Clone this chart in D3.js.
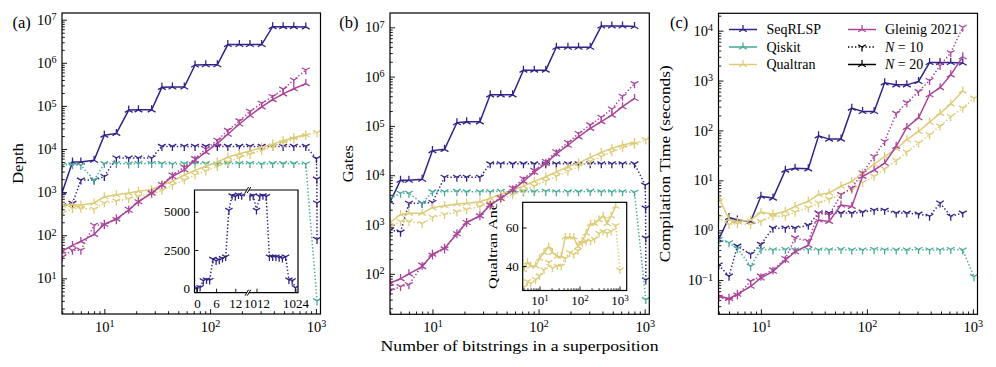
<!DOCTYPE html>
<html><head><meta charset="utf-8">
<script src="https://cdn.jsdelivr.net/npm/d3@7"></script>
<style>
body{margin:0;background:#fff;}
svg{display:block;font-family:"Liberation Serif","Times New Roman",serif;}
</style></head><body>
<svg id="chart" width="996" height="367"></svg>
<script>
// ---------------- DATA ----------------
const mN20 = [4,5,6,8,10,13,17,21,28,35,44,57,72,91,117,147,189,238,307,390,490,618,802];
const mN10 = [4,5,6,8,10,13,17,21,28,35,44,57,72,91,117,147,189,238,307,390,490,618,802,1024];
const mSeqN10 = [4,5,6,8,10,13,17,21,28,35,44,57,72,91,117,147,189,238,307,390,490,618,802,1012,1020,1023,1024];

// (a) Depth
const depthSeqN20 = [1000,5000,5000,5500,21000,23000,80000,81000,81000,270000,275000,275000,890000,900000,900000,2650000,2650000,2650000,2650000,6900000,6900000,6900000,6800000];
const depthSeqN10 = [480,550,1900,1900,2300,6200,6200,6200,6200,11500,11500,11500,11500,11500,11500,11500,11500,11500,11500,11500,11500,11500,11500,6000,2000,560,80];
const depthQiskitN10 = [4200,4300,4200,1900,4600,4600,4500,4600,4600,4600,4500,4600,4600,4600,4500,4600,4600,4600,4500,4600,4600,4600,4500,3];
const depthQualN20 = [500,520,500,560,780,870,950,1050,1150,1450,1800,2500,3200,4000,5000,6500,7800,9000,11000,13000,15500,18500,21500];
const depthQualN10 = [320,420,420,400,560,620,700,800,900,1100,1450,1900,2500,3100,3900,5000,6300,7500,9300,11500,14000,17000,20500,24000];
const depthGleinN20 = [43,58,72,105,180,240,380,600,950,1450,2300,3300,5500,8500,13500,22000,38000,60000,95000,140000,190000,250000,330000];
const depthGleinN10 = [31,45,45,170,175,230,400,600,950,1500,2500,3800,6000,10000,16000,27000,45000,75000,115000,165000,245000,400000,680000];

// (b) Gates
const gatesSeqN20 = [2900,7900,7900,8300,31600,33500,116000,121000,121000,427000,427000,427000,1350000,1350000,1350000,3930000,3930000,3930000,3930000,10600000,10600000,10600000,10400000];
const gatesSeqN10 = [780,700,2700,2700,2800,9100,9100,9100,9100,17000,17000,17000,17000,17000,17000,17000,17000,17000,17000,17000,17000,17000,17000,6300,2150,530,75];
const gatesQiskitN10 = [3400,4300,4300,2700,4600,4600,4700,4600,4600,4600,4700,4600,4600,4600,4700,4600,4600,4600,4700,4600,4600,4600,4500,30];
const gatesQualN20 = [1100,1600,1700,1700,2200,2400,2600,2700,2900,3400,4100,5000,6000,7500,9300,11700,14800,17800,23000,29000,35000,41000,46000];
const gatesQualN10 = [900,1150,1150,1050,1400,1600,1800,2000,2300,2700,3300,4000,4900,6000,7600,9500,12000,15000,19000,24000,29500,36000,43000,52000];
const gatesGleinN20 = [65,80,100,140,250,330,650,1100,1500,2500,3400,5000,7500,11500,17400,27000,40500,60000,89000,122000,165000,245000,360000];
const gatesGleinN10 = [45,55,60,150,240,320,650,1100,1500,2500,3500,5500,8500,12500,19000,30000,46000,70000,105000,150000,220000,400000,720000];

// (c) Compilation time (s)
const timeSeqN20 = [0.65,1.8,1.6,1.5,4.8,4.4,16,17.5,17,78,67,67,280,240,240,900,820,820,960,2300,2300,2300,2250];
const timeSeqN10 = [0.2,0.12,0.48,0.33,0.52,1.1,1.1,1.1,1.25,2.2,2.2,2.2,2.2,2.3,2.5,2.5,2.2,2.2,2.1,1.9,3.5,1.9,2.2];
const timeQiskitN10 = [0.65,0.56,0.43,0.19,0.41,0.4,0.41,0.4,0.41,0.4,0.4,0.41,0.4,0.4,0.41,0.4,0.4,0.4,0.41,0.4,0.4,0.41,0.4,0.117];
const timeQualN20 = [4.5,1.65,1.5,1.6,2.3,2.1,2.4,3.0,3.8,5.2,5.6,7.6,9.5,14,21,30,43,65,96,146,220,340,620];
const timeQualN10 = [1.8,1.3,1.35,1.3,1.5,1.9,1.9,2.3,2.8,3.5,4.2,5.2,6.5,9,12,17,25,37,56,82,122,190,280,445];
const timeGleinN20 = [0.048,0.043,0.052,0.075,0.11,0.15,0.25,0.37,0.5,1.6,1.5,3.2,3.0,12,16,22,48,115,180,520,720,1300,3000];
const timeGleinN10 = [0.045,0.04,0.05,0.095,0.12,0.16,0.27,0.7,0.6,2.2,2.0,5.2,7,14,30,60,220,360,600,1000,2000,3600,11700];

// inset (a): SeqRLSP N=10 depth, broken linear axis
const insetLM = [0,1,2,3,4,5,6,7,8,9,10,11,12,13,14];
const insetLDepth = [30,60,500,550,520,1900,1800,1850,1950,2050,5100,6050,6000,6100,6050];
const insetRM = [1010,1011,1012,1013,1014,1015,1016,1017,1018,1019,1020,1021,1022,1023,1024];
const insetRDepth = [6000,6050,5100,6000,6050,6000,2050,2050,2050,2000,1950,2050,550,500,40];

// inset (b): Qualtran ancillas
const ancQualN20 = [38,42,40,40,44,47,50,47,45,45,55,55,55,50,53,57,62,62,64,66,62,66,71];
const ancQualN10 = [29,32,31,33,35,38,42,39,40,40,44,47,46,48,52,53,53,54,57,58,57,58,61,38];

const methods = ["SeqRLSP","Qiskit","Qualtran","Gleinig 2021"];
const colors = {"SeqRLSP":"#332288","Qiskit":"#44AA99","Qualtran":"#DDCC77","Gleinig 2021":"#AA4499"};
const xTickValues = [10,100,1000];
const insetYTicks = [0,2500,5000];
const insetXTicksL = [0,6,12];
const insetXTicksR = [1012,1024];
const insetBYTicks = [40,60];

// ---------------- HELPERS ----------------
const svg = d3.select('#chart');
const TICKFS = 14.5;
const plain = d3.format('d');

function triPath(r, up){
  const s = 0.866*r, h = 0.5*r;
  if (up) return `M0,0L0,${-r}M0,0L${-s},${h}M0,0L${s},${h}`;
  return `M0,0L0,${r}M0,0L${-s},${-h}M0,0L${s},${-h}`;
}
function supText(sel, fs){
  sel.each(function(d){
    const t = d3.select(this);
    const e = Math.round(Math.log10(d));
    t.text(null);
    t.append('tspan').text('10');
    t.append('tspan').attr('dy', -0.31*fs).attr('font-size', fs*0.7).text(e < 0 ? '\u2212' + (-e) : String(e));
  });
}
function minorLog(lo, hi){
  const out = [];
  for (let e = Math.floor(Math.log10(lo)) - 1; e <= Math.ceil(Math.log10(hi)); e++)
    for (let k = 2; k <= 9; k++){ const v = +(k*Math.pow(10,e)).toPrecision(6); if (v >= lo && v <= hi) out.push(v); }
  return out;
}
function majorLog(lo, hi){
  const out = [];
  for (let e = Math.ceil(Math.log10(lo)); e <= Math.floor(Math.log10(hi)); e++) out.push(+Math.pow(10,e).toPrecision(6));
  return out;
}
function styleAxis(g, fs){
  g.select('.domain').remove();
  g.selectAll('line').attr('stroke','#000').attr('stroke-width',0.9);
  g.selectAll('text').attr('font-family','"Liberation Serif",serif').attr('font-size',fs).attr('fill','#000');
}
function drawSeries(g, xs, ys, ms, vs, color, dotted, r){
  const pts = ms.map((m,i)=>[xs(m), ys(vs[i])]);
  g.append('path').attr('d', d3.line()(pts)).attr('fill','none')
    .attr('stroke', color).attr('stroke-width', 1.5)
    .attr('stroke-dasharray', dotted ? '1.4,2.1' : null);
  g.selectAll(null).data(pts).enter().append('path')
    .attr('transform', d=>`translate(${d[0]},${d[1]})`)
    .attr('d', triPath(r || 4.5, !dotted))
    .attr('fill','none').attr('stroke', color).attr('stroke-width', 1.3);
}

// ---------------- PANELS ----------------
const panels = [
  {key:'a', label:'(a)', lx:12.5, x0:62, x1:320.5, y0:13, y1:314, yd:[1.49,1.43e7], ylab:'Depth', ylx:23, yll:41,
   series:[
     ["SeqRLSP", mSeqN10, depthSeqN10, true], ["SeqRLSP", mN20, depthSeqN20, false],
     ["Qiskit", mN10, depthQiskitN10, true],
     ["Qualtran", mN10, depthQualN10, true], ["Qualtran", mN20, depthQualN20, false],
     ["Gleinig 2021", mN20, depthGleinN10, true], ["Gleinig 2021", mN20, depthGleinN20, false]]},
  {key:'b', label:'(b)', lx:339.3, x0:390, x1:649.3, y0:13, y1:314.3, yd:[15.1,1.95e7], ylab:'Gates', ylx:352.5, yll:37,
   series:[
     ["SeqRLSP", mSeqN10, gatesSeqN10, true], ["SeqRLSP", mN20, gatesSeqN20, false],
     ["Qiskit", mN10, gatesQiskitN10, true],
     ["Qualtran", mN10, gatesQualN10, true], ["Qualtran", mN20, gatesQualN20, false],
     ["Gleinig 2021", mN20, gatesGleinN10, true], ["Gleinig 2021", mN20, gatesGleinN20, false]]},
  {key:'c', label:'(c)', lx:670, x0:718.5, x1:977.5, y0:13.3, y1:314.3, yd:[0.0206,22300], ylab:'Compilation Time (seconds)', ylx:669.5, yll:197,
   series:[
     ["SeqRLSP", mN20, timeSeqN10, true], ["SeqRLSP", mN20, timeSeqN20, false],
     ["Qiskit", mN10, timeQiskitN10, true],
     ["Qualtran", mN10, timeQualN10, true], ["Qualtran", mN20, timeQualN20, false],
     ["Gleinig 2021", mN20, timeGleinN10, true], ["Gleinig 2021", mN20, timeGleinN20, false]]}
];

const xDomain = [3.98, 1105];
panels.forEach(p=>{
  const xs = d3.scaleLog().domain(xDomain).range([p.x0, p.x1]);
  const ys = d3.scaleLog().domain(p.yd).range([p.y1, p.y0]);
  const clipId = 'clip-' + p.key;
  svg.append('clipPath').attr('id', clipId).append('rect')
    .attr('x', p.x0).attr('y', p.y0).attr('width', p.x1-p.x0).attr('height', p.y1-p.y0);

  const gx = svg.append('g').attr('transform', `translate(0,${p.y1})`)
    .call(d3.axisBottom(xs).tickValues(xTickValues).tickSize(-5).tickPadding(7.3));
  styleAxis(gx, TICKFS); gx.selectAll('.tick text').call(supText, TICKFS);
  const gxm = svg.append('g').attr('transform', `translate(0,${p.y1})`)
    .call(d3.axisBottom(xs).tickValues(minorLog(xDomain[0]*1.001, xDomain[1])).tickSize(-2.8).tickFormat(''));
  styleAxis(gxm, TICKFS);

  const gy = svg.append('g').attr('transform', `translate(${p.x0},0)`)
    .call(d3.axisLeft(ys).tickValues(majorLog(p.yd[0], p.yd[1])).tickSize(-5).tickPadding(5.5));
  styleAxis(gy, TICKFS); gy.selectAll('.tick text').call(supText, TICKFS);
  const gym = svg.append('g').attr('transform', `translate(${p.x0},0)`)
    .call(d3.axisLeft(ys).tickValues(minorLog(p.yd[0], p.yd[1])).tickSize(-2.8).tickFormat(''));
  styleAxis(gym, TICKFS);

  const g = svg.append('g').attr('clip-path', `url(#${clipId})`);
  p.series.forEach(s=> drawSeries(g, xs, ys, s[1], s[2], colors[s[0]], s[3]));

  svg.append('rect').attr('x', p.x0).attr('y', p.y0).attr('width', p.x1-p.x0).attr('height', p.y1-p.y0)
    .attr('fill','none').attr('stroke','#000').attr('stroke-width',1.2);

  svg.append('text').attr('x', p.lx).attr('y', 28).attr('font-size', 16.5).text(p.label);
  const cy = (p.y0+p.y1)/2;
  svg.append('text').attr('transform', `translate(${p.ylx},${cy}) rotate(-90)`)
    .attr('text-anchor','middle').attr('font-size', 15.5)
    .attr('textLength', p.yll).attr('lengthAdjust','spacingAndGlyphs').text(p.ylab);
});

svg.append('text').attr('x', 519.5).attr('y', 350.5).attr('text-anchor','middle').attr('font-size', 15)
  .attr('textLength', 278).attr('lengthAdjust','spacingAndGlyphs').text('Number of bitstrings in a superposition');

// ---------------- INSET (a) ----------------
(function(){
  const top = 190, bot = 292.7, L0 = 194.5, L1 = 246.8, R0 = 249, R1 = 298;
  const xl = d3.scaleLinear().domain([-0.75, 15.6]).range([L0, L1]);
  const xr = d3.scaleLinear().domain([1009.7, 1024.8]).range([R0, R1]);
  const yi = d3.scaleLinear().domain([-290, 6420]).range([bot, top]);
  svg.append('rect').attr('x', L0).attr('y', top).attr('width', R1-L0).attr('height', bot-top).attr('fill','#fff');
  const col = colors["SeqRLSP"];
  const allM = insetLM.concat(insetRM), allV = insetLDepth.concat(insetRDepth);
  [[xl, L0, L1, 'ia-l'], [xr, R0, R1, 'ia-r']].forEach(([xs, a, b, id])=>{
    svg.append('clipPath').attr('id', id).append('rect').attr('x', a).attr('y', top).attr('width', b-a).attr('height', bot-top);
    const g = svg.append('g').attr('clip-path', `url(#${id})`);
    drawSeries(g, xs, yi, allM, allV, col, true, 4.2);
  });
  const fs = 13;
  const gy = svg.append('g').attr('transform', `translate(${L0},0)`)
    .call(d3.axisLeft(yi).tickValues(insetYTicks).tickFormat(plain).tickSize(-4).tickPadding(4.5));
  styleAxis(gy, fs);
  const gxl = svg.append('g').attr('transform', `translate(0,${bot})`)
    .call(d3.axisBottom(xl).tickValues(insetXTicksL).tickFormat(plain).tickSize(-4).tickPadding(5.8));
  styleAxis(gxl, fs);
  const gxr = svg.append('g').attr('transform', `translate(0,${bot})`)
    .call(d3.axisBottom(xr).tickValues(insetXTicksR).tickFormat(plain).tickSize(-4).tickPadding(5.8));
  styleAxis(gxr, fs);
  const fr = svg.append('g').attr('stroke','#000').attr('stroke-width',1.2).attr('fill','none');
  fr.append('path').attr('d', `M${L1},${top}H${L0}V${bot}H${L1}`);
  fr.append('path').attr('d', `M${R0},${top}H${R1}V${bot}H${R0}`);
  const bk = svg.append('g').attr('stroke','#000').attr('stroke-width',1);
  [L1, R0].forEach(x=>[top, bot].forEach(y=>{
    bk.append('line').attr('x1', x-1.8).attr('y1', y+3).attr('x2', x+1.8).attr('y2', y-3);
  }));
})();

// ---------------- INSET (b) ----------------
(function(){
  const L = 522.7, R = 626.7, top = 202.3, bot = 290.5;
  const xs = d3.scaleLog().domain([3.8, 1510]).range([L, R]);
  const ys = d3.scaleLinear().domain([27.3, 73.1]).range([bot, top]);
  svg.append('rect').attr('x', L).attr('y', top).attr('width', R-L).attr('height', bot-top).attr('fill','#fff');
  svg.append('clipPath').attr('id','ib').append('rect').attr('x', L).attr('y', top).attr('width', R-L).attr('height', bot-top);
  const g = svg.append('g').attr('clip-path','url(#ib)');
  const col = colors["Qualtran"];
  drawSeries(g, xs, ys, mN10, ancQualN10, col, true, 4.2);
  drawSeries(g, xs, ys, mN20, ancQualN20, col, false, 4.2);
  const fs = 13;
  const gx = svg.append('g').attr('transform', `translate(0,${bot})`)
    .call(d3.axisBottom(xs).tickValues(xTickValues).tickSize(-4).tickPadding(5.3));
  styleAxis(gx, fs); gx.selectAll('.tick text').call(supText, fs);
  const gxm = svg.append('g').attr('transform', `translate(0,${bot})`)
    .call(d3.axisBottom(xs).tickValues(minorLog(3.85, 1500)).tickSize(-2.2).tickFormat(''));
  styleAxis(gxm, fs);
  const gy = svg.append('g').attr('transform', `translate(${L},0)`)
    .call(d3.axisLeft(ys).tickValues(insetBYTicks).tickFormat(plain).tickSize(-4).tickPadding(4));
  styleAxis(gy, fs);
  svg.append('rect').attr('x', L).attr('y', top).attr('width', R-L).attr('height', bot-top)
    .attr('fill','none').attr('stroke','#000').attr('stroke-width',1.2);
  svg.append('text').attr('transform', `translate(497,289) rotate(-90)`).attr('font-size', 13.5)
    .attr('textLength', 86).attr('lengthAdjust','spacingAndGlyphs').text('Qualtran Anc');
})();

// ---------------- LEGEND (c) ----------------
(function(){
  const rows = [29.5, 47, 64.5];
  const g = svg.append('g');
  const items = [
    {col:0, row:0, color:colors["SeqRLSP"], dotted:false, text:'SeqRLSP'},
    {col:0, row:1, color:colors["Qiskit"], dotted:false, text:'Qiskit'},
    {col:0, row:2, color:colors["Qualtran"], dotted:false, text:'Qualtran'},
    {col:1, row:0, color:colors["Gleinig 2021"], dotted:false, text:'Gleinig 2021'},
    {col:1, row:1, color:'#000', dotted:true, text:'N10'},
    {col:1, row:2, color:'#000', dotted:false, text:'N20'}
  ];
  const cols = [{a:729, b:757, t:766.5}, {a:848, b:876, t:885}];
  items.forEach(it=>{
    const c = cols[it.col], y = rows[it.row];
    g.append('line').attr('x1', c.a).attr('x2', c.b).attr('y1', y).attr('y2', y)
      .attr('stroke', it.color).attr('stroke-width', 1.5).attr('stroke-dasharray', it.dotted ? '1.4,2.1' : null);
    g.append('path').attr('transform', `translate(${(c.a+c.b)/2},${y})`).attr('d', triPath(4.5, !it.dotted))
      .attr('fill','none').attr('stroke', it.color).attr('stroke-width', 1.3);
    const t = g.append('text').attr('x', c.t).attr('y', y+4.8).attr('font-size', 14);
    if (it.text === 'N10' || it.text === 'N20'){
      t.append('tspan').attr('font-style','italic').text('N');
      t.append('tspan').text(' = ' + (it.text === 'N10' ? '10' : '20'));
    } else t.text(it.text);
  });
})();
</script>
</body></html>
